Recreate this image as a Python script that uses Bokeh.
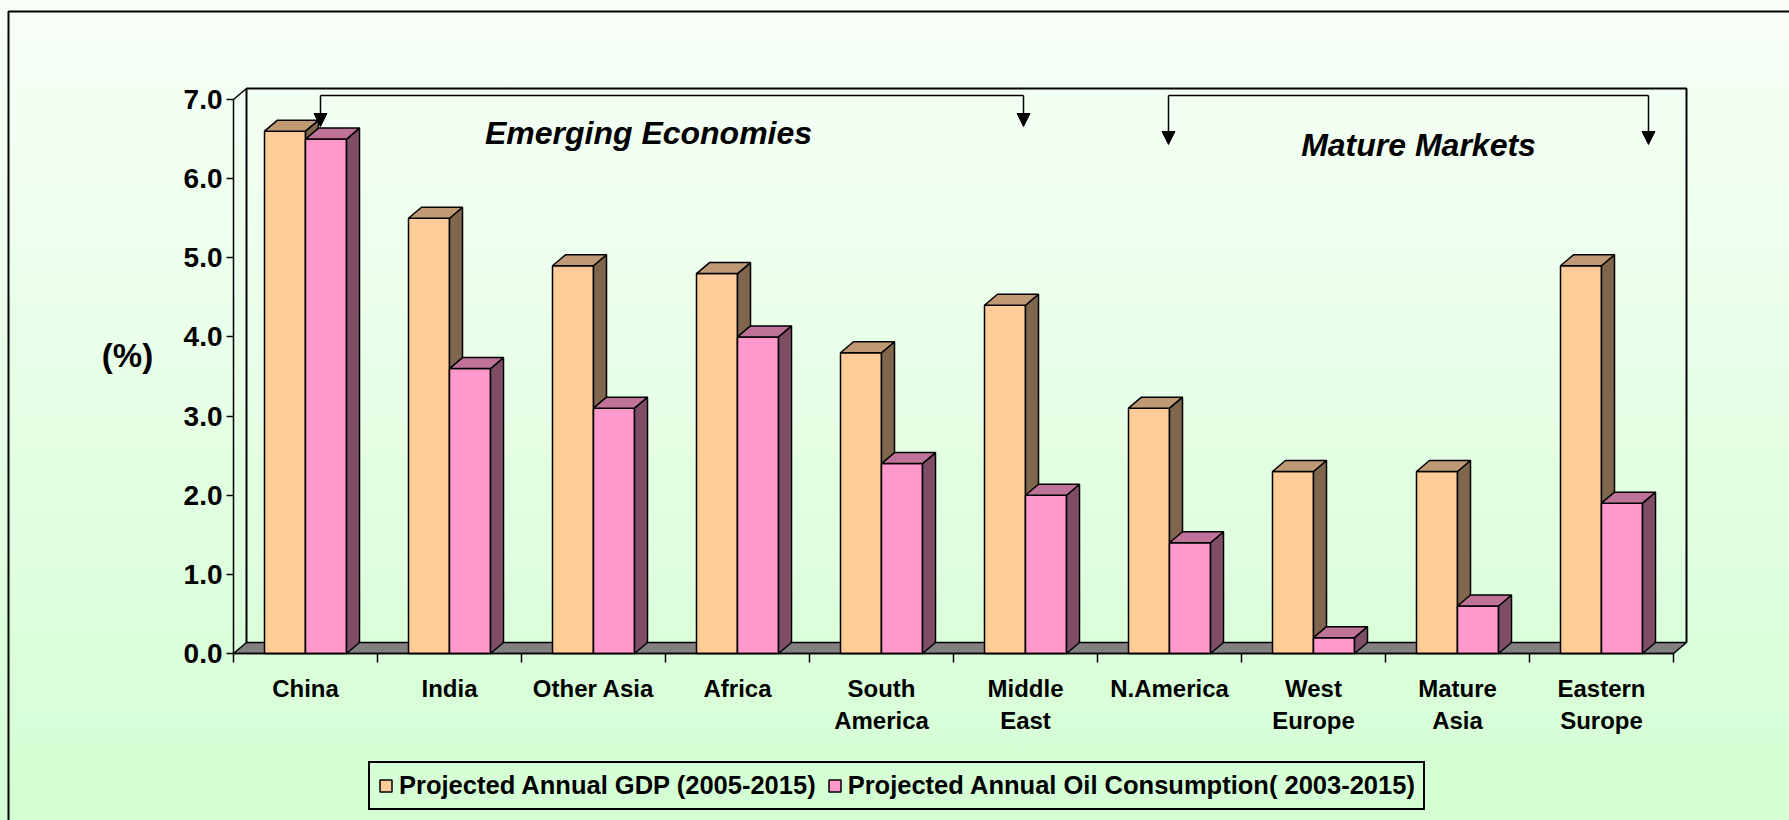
from bokeh.plotting import figure
from bokeh.models import (FixedTicker, PrintfTickFormatter, Label, Arrow, NormalHead,
                          Legend, LegendItem)
from bokeh.embed import file_html
from bokeh.resources import INLINE

# ---------------- data ----------------
categories = ["China", "India", "Other Asia", "Africa", "South\nAmerica", "Middle\nEast",
              "N.America", "West\nEurope", "Mature\nAsia", "Eastern\nSurope"]
gdp = [6.6, 5.5, 4.9, 4.8, 3.8, 4.4, 3.1, 2.3, 2.3, 4.9]
oil = [6.5, 3.6, 3.1, 4.0, 2.4, 2.0, 1.4, 0.2, 0.6, 1.9]
y_ticks = [0, 1, 2, 3, 4, 5, 6, 7]
series_names = ["Projected Annual GDP (2005-2015)",
                "Projected Annual Oil Consumption( 2003-2015)"]
group_labels = ["Emerging Economies", "Mature Markets"]
y_label = "(%)"

# ---------------- style / layout constants ----------------
FONT = "Liberation Sans"
W, H = 1789, 820
ORIGIN_X, ORIGIN_Y = 233, 653      # pixel position of (0, 0)
PX_X = 144.0                       # pixels per category
PX_Y = 554.0 / 7.0                 # pixels per 1 %
DX = 13 / PX_X                     # 3-D depth offset (data units)
DY = 11 / PX_Y
BAR_W = 41 / PX_X
N = len(categories)
Y_MAX = y_ticks[-1]

gdp_cols = ("#FFCC99", "#BF9973", "#80664D")
oil_cols = ("#FF99CC", "#BF7399", "#804D66")

def dx_(px):   # pixel column -> data x
    return (px - ORIGIN_X) / PX_X

def dy_(py):   # pixel row -> data y
    return (ORIGIN_Y - py) / PX_Y

p = figure(width=W, height=H, x_range=(dx_(0), dx_(W)), y_range=(dy_(H), dy_(0)),
           output_backend="svg", toolbar_location=None,
           min_border_left=0, min_border_right=0, min_border_top=0, min_border_bottom=0)
p.styles = {"background-image": "linear-gradient(to bottom, #F8FFF8 0%, #D3FFD3 100%)"}
p.background_fill_color = None
p.border_fill_color = None
p.outline_line_color = None
p.grid.visible = False

# ---------------- outer chart border ----------------
p.line([dx_(8), dx_(8), dx_(W + 40)], [dy_(H + 40), dy_(11), dy_(11)],
       line_color="black", line_width=2)

# ---------------- floor & walls ----------------
p.patch([0, N, N + DX, DX], [0, 0, DY, DY], fill_color="#808080",
        line_color="black", line_width=1.5)
p.line([DX, DX, N + DX, N + DX], [DY, Y_MAX + DY, Y_MAX + DY, DY],
       line_color="black", line_width=2)
p.line([0, DX], [Y_MAX, Y_MAX + DY], line_color="black", line_width=1.5)

# ---------------- 3-D bars ----------------
def bars(vals, offset, cols):
    x0 = [i + 0.5 + offset for i in range(N)]
    x1 = [a + BAR_W for a in x0]
    front = p.quad(left=x0, right=x1, bottom=[0] * N, top=vals,
                   fill_color=cols[0], line_color="black", line_width=1.5)
    top_xs = [[a, b, b + DX, a + DX] for a, b in zip(x0, x1)]
    top_ys = [[v, v, v + DY, v + DY] for v in vals]
    side_xs = [[b, b, b + DX, b + DX] for b in x1]
    side_ys = [[0, v, v + DY, DY] for v in vals]
    p.patches(side_xs, side_ys, fill_color=cols[2], line_color="black", line_width=1.5)
    p.patches(top_xs, top_ys, fill_color=cols[1], line_color="black", line_width=1.5)
    return front

r_gdp = bars(gdp, -BAR_W, gdp_cols)
r_oil = bars(oil, 0.0, oil_cols)

# ---------------- axes ----------------
yax = p.yaxis[0]
yax.fixed_location = 0
yax.ticker = FixedTicker(ticks=y_ticks)
yax.formatter = PrintfTickFormatter(format="%.1f")
yax.bounds = (0, Y_MAX)
yax.axis_line_color = "black"
yax.axis_line_width = 1.5
yax.major_tick_out = 7
yax.major_tick_in = 0
yax.major_tick_line_width = 1.5
yax.minor_tick_line_color = None
yax.major_label_standoff = 4
yax.major_label_text_font = FONT
yax.major_label_text_font_style = "bold"
yax.major_label_text_font_size = "28px"
yax.major_label_text_color = "black"

centers = [i + 0.5 for i in range(N)]
xax = p.xaxis[0]
xax.fixed_location = 0
xax.ticker = FixedTicker(ticks=centers, minor_ticks=list(range(N + 1)))
xax.major_label_overrides = {c: lab for c, lab in zip(centers, categories)}
xax.bounds = (0, N)
xax.axis_line_color = "black"
xax.axis_line_width = 1.5
xax.major_tick_line_color = None
xax.major_tick_out = 0
xax.major_tick_in = 0
xax.minor_tick_out = 9
xax.minor_tick_in = 0
xax.minor_tick_line_color = "black"
xax.minor_tick_line_width = 1.5
xax.major_label_standoff = 12
xax.major_label_text_font = FONT
xax.major_label_text_font_style = "bold"
xax.major_label_text_font_size = "24px"
xax.major_label_text_line_height = 1.2
xax.major_label_text_color = "black"

p.add_layout(Label(x=dx_(127), y=dy_(355), text=y_label, text_align="center",
                   text_baseline="middle", text_font=FONT,
                   text_font_style="bold", text_font_size="33px", text_color="black"))

# ---------------- group brackets ----------------
BRACKET_Y = dy_(95)
brackets = [(dx_(320), dx_(1023), dy_(126)), (dx_(1168), dx_(1648), dy_(144))]
for xa, xb, tip in brackets:
    p.segment(x0=[xa], y0=[BRACKET_Y], x1=[xb], y1=[BRACKET_Y],
              line_color="black", line_width=1.5)
    for xx in (xa, xb):
        p.add_layout(Arrow(x_start=xx, y_start=BRACKET_Y, x_end=xx, y_end=tip,
                           line_color="black", line_width=1.5,
                           end=NormalHead(size=13, fill_color="black",
                                          line_color="black", line_width=1)))

group_pos = [(dx_(648), dy_(132)), (dx_(1418), dy_(144))]
for (gx, gy), txt in zip(group_pos, group_labels):
    p.add_layout(Label(x=gx, y=gy, text=txt, text_align="center",
                       text_baseline="middle", text_font=FONT,
                       text_font_style="bold italic", text_font_size="32px",
                       text_color="black"))

# ---------------- legend ----------------
legend = Legend(items=[LegendItem(label=series_names[0], renderers=[r_gdp]),
                       LegendItem(label=series_names[1], renderers=[r_oil])],
                orientation="horizontal", location=(368, H - 810))
legend.label_text_font = FONT
legend.label_text_font_style = "bold"
legend.label_text_font_size = "25.5px"
legend.label_text_color = "black"
legend.glyph_width = 15
legend.glyph_height = 15
legend.label_standoff = 6
legend.spacing = 11
legend.padding = 8
legend.margin = 0
legend.border_line_color = "black"
legend.border_line_alpha = 1.0
legend.border_line_width = 2
legend.background_fill_alpha = 0
p.add_layout(legend)

open("out.html", "w").write(file_html(p, INLINE))
